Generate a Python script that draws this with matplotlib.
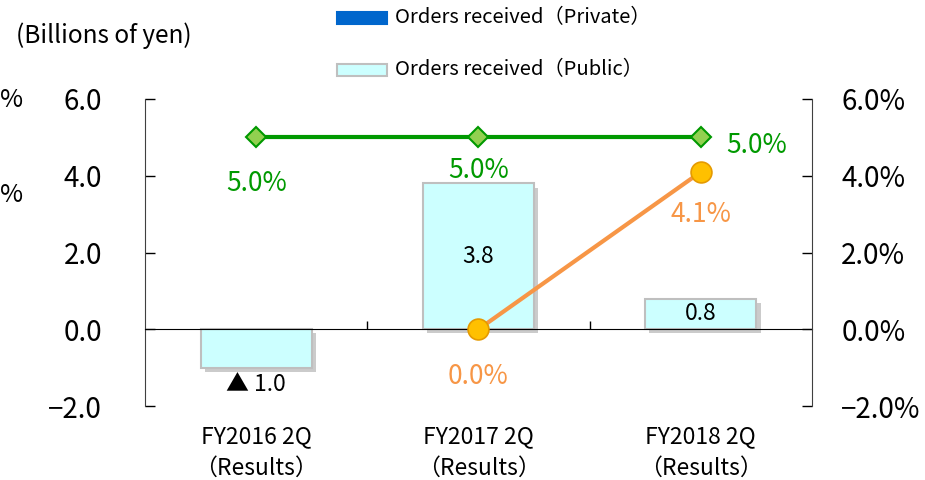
import numpy as np
import matplotlib
matplotlib.use("Agg")
import matplotlib.pyplot as plt
import matplotlib.patheffects as pe
from matplotlib.patches import Rectangle
from matplotlib.ticker import FuncFormatter

plt.rcParams['font.family'] = ['Noto Sans CJK JP', 'DejaVu Sans']

# data
categories = ['FY2016 2Q', 'FY2017 2Q', 'FY2018 2Q']
sublabels = ['（Results）', '（Results）', '（Results）']
public_orders = [-1.0, 3.8, 0.8]          # billions of yen
bar_labels = ['▲ 1.0', '3.8', '0.8']
green_rate = [5.0, 5.0, 5.0]               # %
orange_rate = [np.nan, 0.0, 4.1]           # %
legend_labels = ['Orders received（Private）', 'Orders received（Public）']

W, H = 925, 480
fig = plt.figure(figsize=(W / 100, H / 100), dpi=100)
ax = fig.add_axes([145 / W, 1 - 406 / H, (812 - 145) / W, (406 - 99) / H])
ax2 = ax.twinx()

x = np.arange(len(categories))
bars = ax.bar(x, public_orders, width=0.5, color='#CCFFFF', edgecolor='#BFBFBF',
              linewidth=1.5, zorder=1)
for b in bars:
    b.set_path_effects([pe.SimplePatchShadow(offset=(3, -3), shadow_rgbFace='#7F7F7F', alpha=0.4),
                        pe.Normal()])

ax.set_xlim(-0.5, 2.5)
ax.set_ylim(-2, 6)
ax.set_yticks([-2, 0, 2, 4, 6])
ax.yaxis.set_major_formatter(FuncFormatter(lambda v, p: f'{v:.1f}'.replace('-', '−')))
ax.tick_params(axis='y', direction='in', length=7, width=1, pad=31, labelsize=20)
ax.spines['top'].set_visible(False)
ax.spines['right'].set_visible(False)
ax.spines['bottom'].set_position(('data', 0))
ax.spines['left'].set_color('#404040')
ax.set_xticks([0.5, 1.5])
ax.tick_params(axis='x', direction='in', length=6, width=1, labelbottom=False)

ax2.set_ylim(-2, 6)
ax2.set_yticks([-2, 0, 2, 4, 6])
ax2.yaxis.set_major_formatter(FuncFormatter(lambda v, p: f'{v:.1f}%'.replace('-', '−')))
ax2.tick_params(axis='y', direction='in', length=7, width=1, pad=21, labelsize=20)
for s in ['top', 'left', 'bottom']:
    ax2.spines[s].set_visible(False)
ax2.spines['right'].set_color('#404040')

ax2.plot(x, green_rate, color='#009900', lw=3, marker='D', ms=10,
         mfc='#92D050', mec='#009900', mew=1.5, zorder=3)
ax2.plot(x, orange_rate, color='#F79646', lw=3, marker='o', ms=15,
         mfc='#FFC000', mec='#E59A00', mew=1.2, zorder=4)

# bar value labels
for i, (v, lab) in enumerate(zip(public_orders, bar_labels)):
    if v >= 0:
        ax.text(i, v / 2, lab, ha='center', va='center', fontsize=16.5)
    else:
        ax.annotate(lab, (i, v), xytext=(0, -12), textcoords='offset points',
                    ha='center', va='center', fontsize=16.5)

# rate labels
green_off = [(0, -33), (0, -24), (18, -6)]
for i, (v, off) in enumerate(zip(green_rate, green_off)):
    ax2.annotate(f'{v:.1f}%', (i, v), xytext=off, textcoords='offset points',
                 ha='left' if off[0] else 'center', va='center', fontsize=19, color='#009900')
orange_off = [(0, 0), (0, -34), (0, -31)]
for i, (v, off) in enumerate(zip(orange_rate, orange_off)):
    if not np.isnan(v):
        ax2.annotate(f'{v:.1f}%', (i, v), xytext=off, textcoords='offset points',
                     ha='center', va='center', fontsize=19, color='#F79646')

# category labels
for i, (c, s) in enumerate(zip(categories, sublabels)):
    ax.annotate(c, (i, 0), xycoords=('data', 'axes fraction'), xytext=(0, -22),
                textcoords='offset points', ha='center', va='center', fontsize=16.5)
    ax.annotate(s, (i, 0), xycoords=('data', 'axes fraction'), xytext=(0, -45),
                textcoords='offset points', ha='center', va='center', fontsize=16.5)

fig.text(16 / W, 1 - 36 / H, '(Billions of yen)', ha='left', va='center', fontsize=17.5)

# edge of the labels of an axis lying outside the picture
fig.text(0, 1 - 100 / H, '%', ha='left', va='center', fontsize=18)
fig.text(0, 1 - 195 / H, '%', ha='left', va='center', fontsize=18)

# legend
leg_colors = [('#0066CC', '#0066CC'), ('#CCFFFF', '#BFBFBF')]
leg_y = [18, 70]
for (fc, ec), yc, lab in zip(leg_colors, leg_y, legend_labels):
    fig.add_artist(Rectangle((337 / W, 1 - (yc + 5.5) / H), 50 / W, 11 / H,
                             transform=fig.transFigure, facecolor=fc, edgecolor=ec, lw=1.5))
    fig.text(395 / W, 1 - yc / H, lab, ha='left', va='center', fontsize=14.5)

fig.savefig('out.png', dpi=100)
